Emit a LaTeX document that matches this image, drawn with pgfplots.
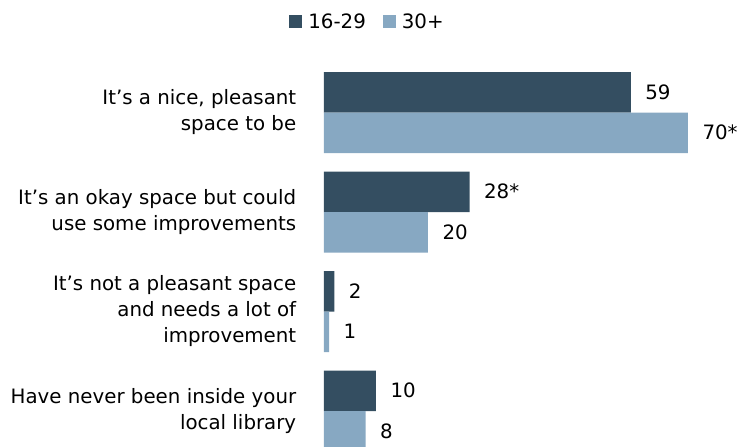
\documentclass[border=0pt]{standalone}
\usepackage{fontspec}
\setmainfont{DejaVu Sans}
\usepackage{pgfplots}
\usepackage{pgfplotstable}
\pgfplotsset{compat=1.18}
\definecolor{dark}{HTML}{344E61}
\definecolor{light}{HTML}{87A8C2}
\pgfplotstableread{
y v lab
0 59 59
1 28 28*
2 2 2
3 10 10
}\young
\pgfplotstableread{
y v lab
0 70 70*
1 20 20
2 1 1
3 8 8
}\old
\begin{document}
\begin{tikzpicture}[x=1pt,y=1pt]
\begin{axis}[
  at={(324pt,-13.75pt)}, anchor=south west,
  scale only axis, width=416pt, height=398pt,
  xmin=0, xmax=80, ymin=-0.5, ymax=3.5, y dir=reverse,
  xbar, bar width=40.5pt,
  axis line style={draw=none}, tick style={draw=none},
  xtick=\empty, ytick={0,1,2,3},
  yticklabels={{It’s a nice, pleasant\\space to be},{It’s an okay space but could\\use some improvements},{It’s not a pleasant space\\and needs a lot of\\improvement},{Have never been inside your\\local library}},
  yticklabel style={align=right, font=\fontsize{19.8}{26}\selectfont, xshift=-20pt},
  nodes near coords, point meta=explicit symbolic,
  every node near coord/.append style={font=\fontsize{19.8}{24}\selectfont, anchor=west, xshift=11pt, text=black},
  legend columns=2,
  legend style={draw=none, at={(0.1046,1.1024)}, anchor=center, font=\fontsize{19.8}{24}\selectfont, /tikz/every even column/.append style={column sep=15pt}, /tikz/every odd column/.append style={column sep=4pt}},
  legend image code/.code={\fill[#1] (0pt,-6.5pt) rectangle (13pt,6.5pt);},
]
\addplot[fill=dark, draw=none, bar shift=20.25pt] table[x=v, y=y, meta=lab] {\young};
\addplot[fill=light, draw=none, bar shift=-20.25pt] table[x=v, y=y, meta=lab] {\old};
\legend{16-29,30+}
\end{axis}
\pgfresetboundingbox
\path (0pt,0pt) rectangle (748pt,447pt);
\end{tikzpicture}
\end{document}
